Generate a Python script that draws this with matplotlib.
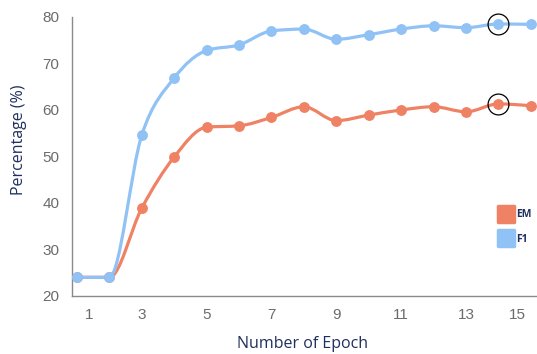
import matplotlib
matplotlib.use("Agg")
import matplotlib.pyplot as plt
from matplotlib.path import Path
from matplotlib.patches import PathPatch
from matplotlib.markers import MarkerStyle
import numpy as np

# ── data ─────────────────────────────────────────────────────────────────
epochs = [1, 2, 3, 4, 5, 6, 7, 8, 9, 10, 11, 12, 13, 14, 15]
em = [24.0, 24.0, 38.9, 49.9, 56.3, 56.6, 58.4, 60.7, 57.7, 58.9, 60.0, 60.7, 59.6, 61.3, 60.9]
f1 = [24.0, 24.0, 54.6, 66.9, 72.8, 74.0, 77.0, 77.4, 75.2, 76.2, 77.4, 78.1, 77.7, 78.5, 78.4]
best_epoch = 14
tick_labels = ["1", "3", "5", "7", "9", "11", "13", "15"]

C_EM = "#ef8264"
C_F1 = "#90c2f5"
NAVY = "#1f2f5f"
GRAY = "#6b6b6b"


def smooth_path(xs, ys):
    """Monotone cubic line (like d3 curveMonotoneX) as a Bezier path."""
    x = np.asarray(xs, float)
    y = np.asarray(ys, float)
    n = len(x)
    h = np.diff(x)
    s = np.diff(y) / h
    t = np.zeros(n)
    for i in range(1, n - 1):
        if s[i - 1] * s[i] <= 0:
            t[i] = 0.0
        else:
            p = (s[i - 1] * h[i] + s[i] * h[i - 1]) / (h[i - 1] + h[i])
            t[i] = np.sign(s[i - 1]) * min(abs(s[i - 1]), abs(s[i]), 0.5 * abs(p)) * 2
    t[0] = (3 * s[0] - t[1]) / 2 if n > 2 else s[0]
    t[-1] = (3 * s[-1] - t[-2]) / 2 if n > 2 else s[-1]
    verts = [(x[0], y[0])]
    codes = [Path.MOVETO]
    for i in range(n - 1):
        dx = h[i] / 3.0
        verts += [(x[i] + dx, y[i] + dx * t[i]),
                  (x[i + 1] - dx, y[i + 1] - dx * t[i + 1]),
                  (x[i + 1], y[i + 1])]
        codes += [Path.CURVE4] * 3
    return Path(verts, codes)


fig = plt.figure(figsize=(5.37, 3.54), dpi=100)
ax = fig.add_axes([0.134, 0.164, 0.866, 0.788])

for ys, col in [(em, C_EM), (f1, C_F1)]:
    ax.add_patch(PathPatch(smooth_path(epochs, ys), fc="none", ec=col,
                           lw=2.3, capstyle="round", zorder=2))
    ax.plot(epochs, ys, ls="none", marker="o", ms=6.8, color=col,
            zorder=3, clip_on=False)

# highlight rings on the best epoch
i = epochs.index(best_epoch)
ax.plot([best_epoch, best_epoch], [em[i], f1[i]], ls="none", marker="o",
        ms=15, mfc="none", mec="black", mew=0.9, zorder=4, clip_on=False)

ax.set_xlim(0.846, 15.19)
ax.set_ylim(20, 80)
ax.set_yticks(range(20, 81, 10))
ax.set_xticks([1.37, 3, 5, 7, 9, 11, 13, 14.57])
ax.set_xticklabels(tick_labels)
ax.tick_params(length=0, labelsize=11, labelcolor=GRAY)
for lab in ax.get_xticklabels() + ax.get_yticklabels():
    lab.set_family("Liberation Sans")
ax.tick_params(axis="y", pad=9)
ax.tick_params(axis="x", pad=9)

for s in ["top", "right"]:
    ax.spines[s].set_visible(False)
for s in ["left", "bottom"]:
    ax.spines[s].set_color("#8a8a8a")
    ax.spines[s].set_linewidth(1.0)

ax.set_xlabel("Number of Epoch", family="Open Sans", fontsize=11.5, color=NAVY)
ax.xaxis.set_label_coords(0.495, -0.145)
ax.set_ylabel("Percentage (%)", family="Open Sans", fontsize=11.5, color=NAVY)
ax.yaxis.set_label_coords(-0.097, 0.56)

# legend (rounded squares)
sq = MarkerStyle("s", joinstyle="round")
h_em = plt.Line2D([], [], ls="none", marker=sq, ms=11, color=C_EM, mew=2.5)
h_f1 = plt.Line2D([], [], ls="none", marker=sq, ms=11, color=C_F1, mew=2.5)
leg = ax.legend([h_em, h_f1], ["EM", "F1"], loc="center left",
                bbox_to_anchor=(0.913, 0.247), frameon=False, handlelength=1.0,
                handletextpad=0.45, labelspacing=1.3, borderaxespad=0,
                prop={"family": "Open Sans", "size": 7.5, "weight": "bold"})
for t in leg.get_texts():
    t.set_color(NAVY)

fig.savefig("out.png", dpi=100, facecolor="white")
